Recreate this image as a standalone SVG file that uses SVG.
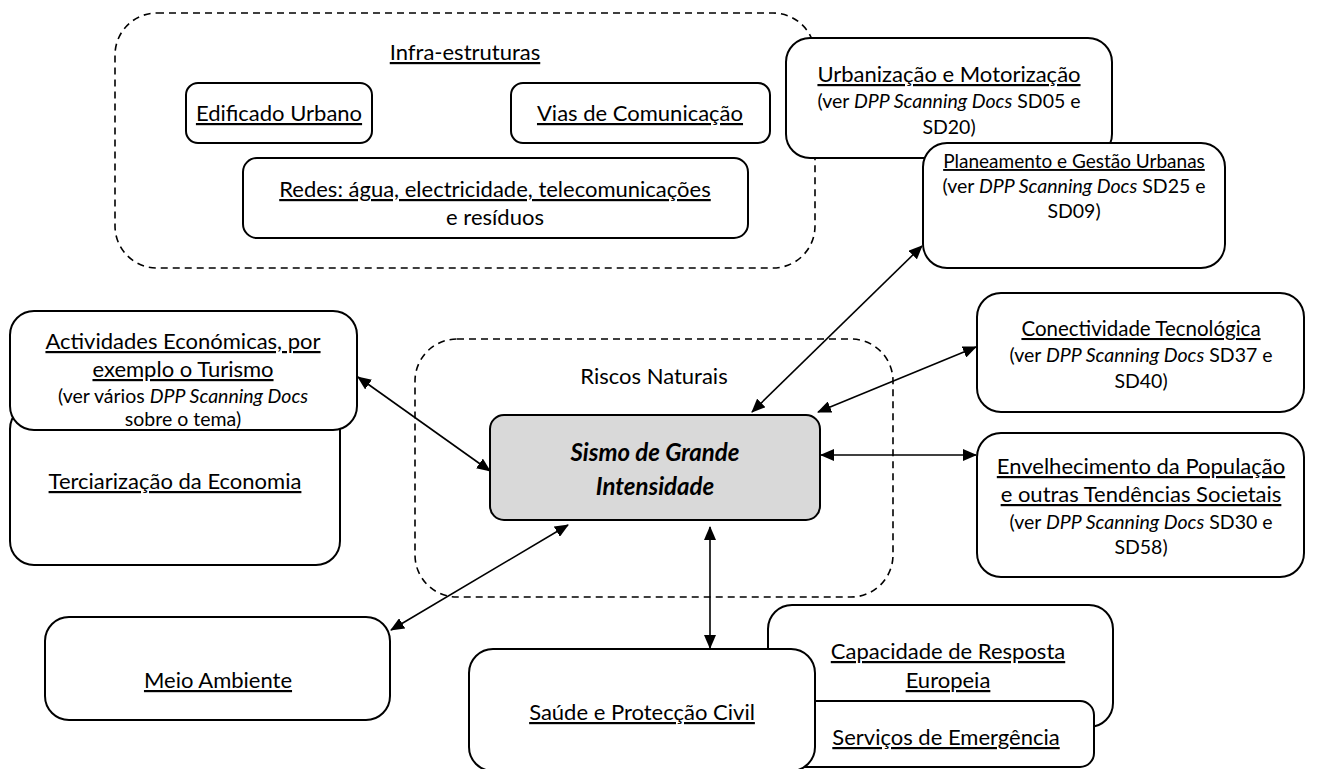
<svg xmlns="http://www.w3.org/2000/svg" width="1330" height="769" viewBox="0 0 1330 769">
<style>
.box{fill:#fff;stroke:#000;stroke-width:2}
.dash{fill:none;stroke:#000;stroke-width:1.6;stroke-dasharray:7 5}
text{font-family:Lato,"Liberation Sans",sans-serif;font-size:22px;fill:#000;text-anchor:middle}
.u{text-decoration:underline}
.i{font-style:italic}
.s{font-size:19.5px}
.b{font-weight:bold;font-style:italic;font-size:24px}
.c{stroke:#000;stroke-width:1.6;fill:none;marker-start:url(#a);marker-end:url(#a)}
</style>
<defs>
<marker id="a" viewBox="0 0 14 12" refX="13" refY="6" markerWidth="14" markerHeight="12" markerUnits="userSpaceOnUse" orient="auto-start-reverse"><path d="M0,0L14,6L0,12z" fill="#000"/></marker>
</defs>
<rect width="1330" height="769" fill="#fff"/>
<g id="infra"><rect class="dash" x="115" y="13" width="700" height="255" rx="42"/><text class="u" x="465" y="60">Infra-estruturas</text></g>
<g id="edificado"><rect class="box" x="186" y="83" width="186" height="60" rx="12"/><text class="u" x="279" y="121">Edificado Urbano</text></g>
<g id="vias"><rect class="box" x="511" y="83" width="259" height="60" rx="12"/><text class="u" x="640" y="121">Vias de Comunicação</text></g>
<g id="redes"><rect class="box" x="243" y="158" width="505" height="80" rx="14"/><text class="u" x="495" y="197">Redes: água, electricidade, telecomunicações</text><text x="495" y="225">e resíduos</text></g>
<g id="urbanizacao"><rect class="box" x="786" y="38" width="326" height="120" rx="24"/><text class="u" x="949" y="82">Urbanização e Motorização</text><text class="s" x="949" y="108">(ver <tspan class="i">DPP Scanning Docs</tspan> SD05 e</text><text class="s" x="949" y="134">SD20)</text></g>
<g id="planeamento"><rect class="box" x="923" y="143" width="302" height="125" rx="24"/><text class="u" x="1074" y="168" style="font-size:19px">Planeamento e Gestão Urbanas</text><text class="s" x="1074" y="193">(ver <tspan class="i">DPP Scanning Docs</tspan> SD25 e</text><text class="s" x="1074" y="218">SD09)</text></g>
<g id="terciarizacao"><rect class="box" x="10" y="405" width="330" height="160" rx="24"/><text class="u" x="175" y="489">Terciarização da Economia</text></g>
<g id="actividades"><rect class="box" x="10" y="311" width="347" height="119" rx="24"/><text class="u" x="183" y="349">Actividades Económicas, por</text><text class="u" x="183" y="377">exemplo o Turismo</text><text class="s" x="183" y="403">(ver vários <tspan class="i">DPP Scanning Docs</tspan></text><text class="s" x="183" y="426">sobre o tema)</text></g>
<g id="riscos"><rect class="dash" x="415" y="339" width="478" height="258" rx="42"/><text x="654" y="384">Riscos Naturais</text></g>
<g id="sismo"><rect x="490" y="415" width="330" height="105" rx="14" fill="#d9d9d9" stroke="#000" stroke-width="2"/><text class="b" x="655" y="461">Sismo de Grande</text><text class="b" x="655" y="495">Intensidade</text></g>
<g id="conectividade"><rect class="box" x="977" y="293" width="327" height="119" rx="24"/><text class="u" x="1141" y="336" style="font-size:20.5px">Conectividade Tecnológica</text><text class="s" x="1141" y="362">(ver <tspan class="i">DPP Scanning Docs</tspan> SD37 e</text><text class="s" x="1141" y="388">SD40)</text></g>
<g id="envelhecimento"><rect class="box" x="977" y="433" width="327" height="144" rx="24"/><text class="u" x="1141" y="474">Envelhecimento da População</text><text class="u" x="1141" y="502">e outras Tendências Societais</text><text class="s" x="1141" y="529">(ver <tspan class="i">DPP Scanning Docs</tspan> SD30 e</text><text class="s" x="1141" y="554">SD58)</text></g>
<g id="meio"><rect class="box" x="45" y="617" width="345" height="103" rx="24"/><text class="u" x="218" y="688">Meio Ambiente</text></g>
<g id="capacidade"><rect class="box" x="768" y="605" width="345" height="122" rx="24"/><text class="u" x="948" y="659">Capacidade de Resposta</text><text class="u" x="948" y="688">Europeia</text></g>
<g id="servicos"><rect class="box" x="760" y="701" width="334" height="66" rx="14"/><text class="u" x="946" y="745">Serviços de Emergência</text></g>
<g id="saude"><rect class="box" x="469" y="649" width="346" height="122" rx="24"/><text class="u" x="642" y="720">Saúde e Protecção Civil</text></g>
<g id="connectors">
<line class="c" x1="358" y1="377" x2="490" y2="471"/>
<line class="c" x1="922" y1="246" x2="752" y2="412"/>
<line class="c" x1="976" y1="347" x2="818" y2="412"/>
<line class="c" x1="821" y1="455" x2="976" y2="455"/>
<line class="c" x1="391" y1="630" x2="568" y2="525"/>
<line class="c" x1="710" y1="527" x2="710" y2="648"/>
</g>
</svg>
